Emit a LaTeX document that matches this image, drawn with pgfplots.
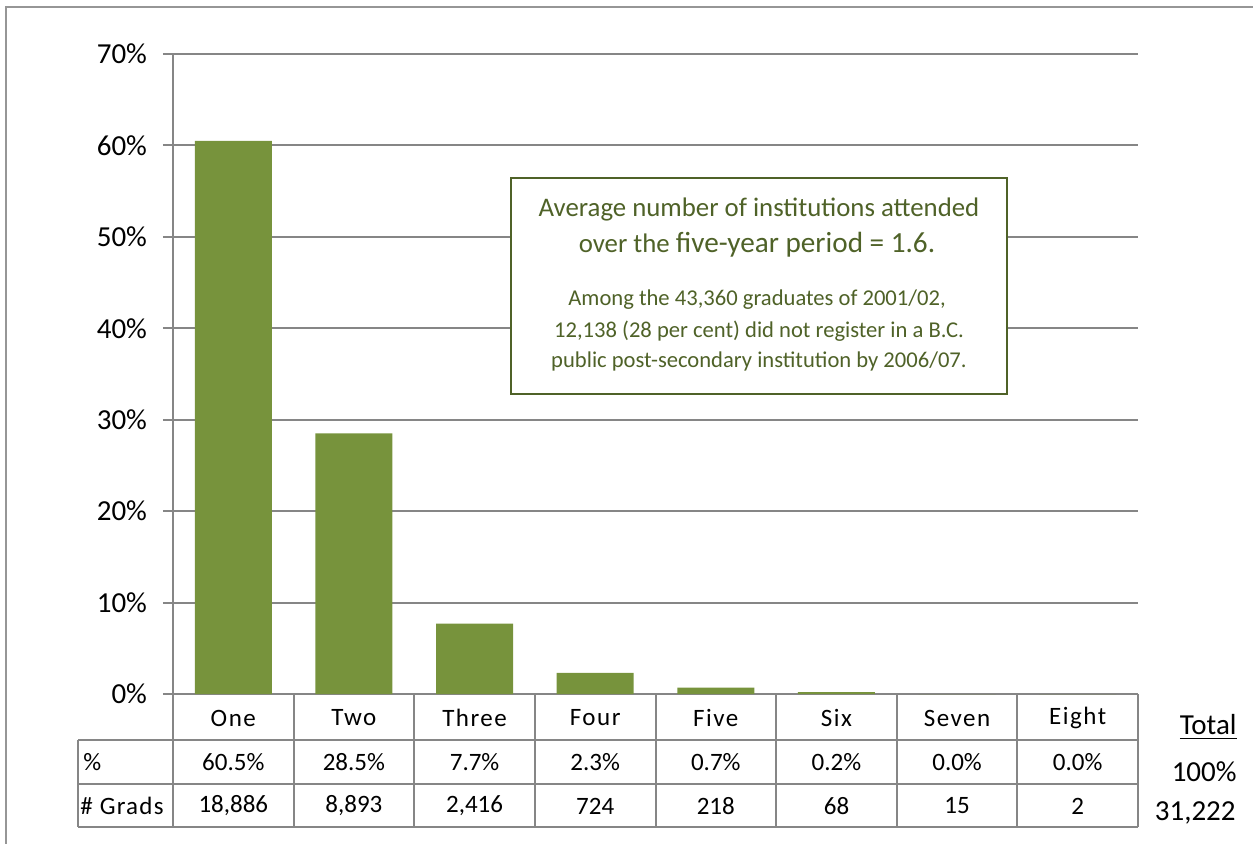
\documentclass[border=0pt]{standalone}
\usepackage{pgfplots}
\pgfplotsset{compat=1.18}
\usepackage{fontspec}
\setmainfont{Carlito}

\definecolor{bargreen}{RGB}{119,147,60}
\definecolor{boxgreen}{RGB}{79,98,40}
\definecolor{gridgray}{RGB}{134,134,134}
\definecolor{framegray}{RGB}{150,150,150}

\begin{document}
\begin{tikzpicture}
% bar chart: share of graduates by number of institutions attended
\begin{axis}[
  at={(86.5pt,-347pt)}, anchor=south west,
  scale only axis,
  width=482.5pt, height=320pt,
  ybar, bar width=38.5pt,
  xmin=-0.5, xmax=7.5,
  ymin=0, ymax=70,
  xtick=\empty,
  ytick={0,10,...,70},
  yticklabel={\pgfmathprintnumber{\tick}\%},
  /pgf/number format/assume math mode=true,
  yticklabel style={font=\fontsize{14.5}{17}\selectfont, xshift=-4.5pt},
  axis x line*=bottom, axis y line*=left,
  axis line style={gridgray, line width=1pt, -},
  tick align=outside, major tick length=5pt,
  tick style={gridgray, line width=1pt},
  ymajorgrids, grid style={gridgray, line width=1pt},
  clip=false,
]
\addplot[fill=bargreen, draw=none] coordinates {
  (0,60.5) (1,28.5) (2,7.7) (3,2.3) (4,0.7) (5,0.2) (6,0.0) (7,0.0)};
\end{axis}

\begin{scope}[x=0.5pt, y=-0.5pt]
\useasboundingbox (0,0) rectangle (1253,844);
% outer frame
\draw[framegray, line width=1.2pt] (6,844) -- (6,7) -- (1253,7);

% data table under the axis
\begin{scope}[gridgray, line width=1pt]
  \draw (78,740) -- (1138,740);
  \draw (78,784) -- (1138,784);
  \draw (78,827) -- (1138,827);
  \draw (78,740) -- (78,827);
  \foreach \x in {173,293.6,414.3,534.9,655.5,776.1,896.8,1017.4,1138}
    \draw (\x,694) -- (\x,827);
\end{scope}

\begin{scope}[every node/.style={font=\fontsize{12.5}{15}\selectfont, inner sep=0pt}]
  \foreach \x/\t [count=\i] in {233.3/One,353.9/Two,474.6/Three,595.2/Four,
      715.8/Five,836.5/Six,957.1/Seven,1077.7/Eight}
    \node[font=\fontsize{12.5}{15}\selectfont\addfontfeature{LetterSpace=6}] at (\x,718) {\t};
  \foreach \x/\t in {233.3/60.5\%,353.9/28.5\%,474.6/7.7\%,595.2/2.3\%,
      715.8/0.7\%,836.5/0.2\%,957.1/0.0\%,1077.7/0.0\%}
    \node at (\x,762) {\t};
  \foreach \x/\t in {233.3/{18,886},353.9/{8,893},474.6/{2,416},595.2/724,
      715.8/218,836.5/68,957.1/15,1077.7/2}
    \node at (\x,806) {\t};
  \node[anchor=west] at (83,762) {\%};
  \node[anchor=west, font=\fontsize{12.5}{15}\selectfont\addfontfeature{LetterSpace=5}] at (80,806) {\# Grads};
  \begin{scope}[every node/.append style={font=\fontsize{14.5}{17}\selectfont}]
    \node[anchor=east] at (1237,727) {\underline{Total}};
    \node[anchor=east] at (1237,772) {100\%};
    \node[anchor=east] at (1236,813) {31,222};
  \end{scope}
\end{scope}

% annotation box
\draw[boxgreen, line width=1pt, fill=white] (511,178) rectangle (1007,394);
\begin{scope}[every node/.style={text=boxgreen, inner sep=0pt}]
  \node[font=\fontsize{13.4}{16}\selectfont] at (759,210)
    {Average number of institutions attended};
  \node at (757,245) {\fontsize{13.4}{16}\selectfont over the
    \fontsize{14.6}{17}\selectfont five-year period = 1.6.};
  \node[font=\fontsize{11.3}{13}\selectfont] at (757,300)
    {Among the 43,360 graduates of 2001/02,};
  \node[font=\fontsize{11.3}{13}\selectfont] at (759,331)
    {12,138 (28 per cent) did not register in a B.C.};
  \node[font=\fontsize{11.3}{13}\selectfont] at (759,361)
    {public post-secondary institution by 2006/07.};
\end{scope}
\end{scope}
\end{tikzpicture}
\end{document}
